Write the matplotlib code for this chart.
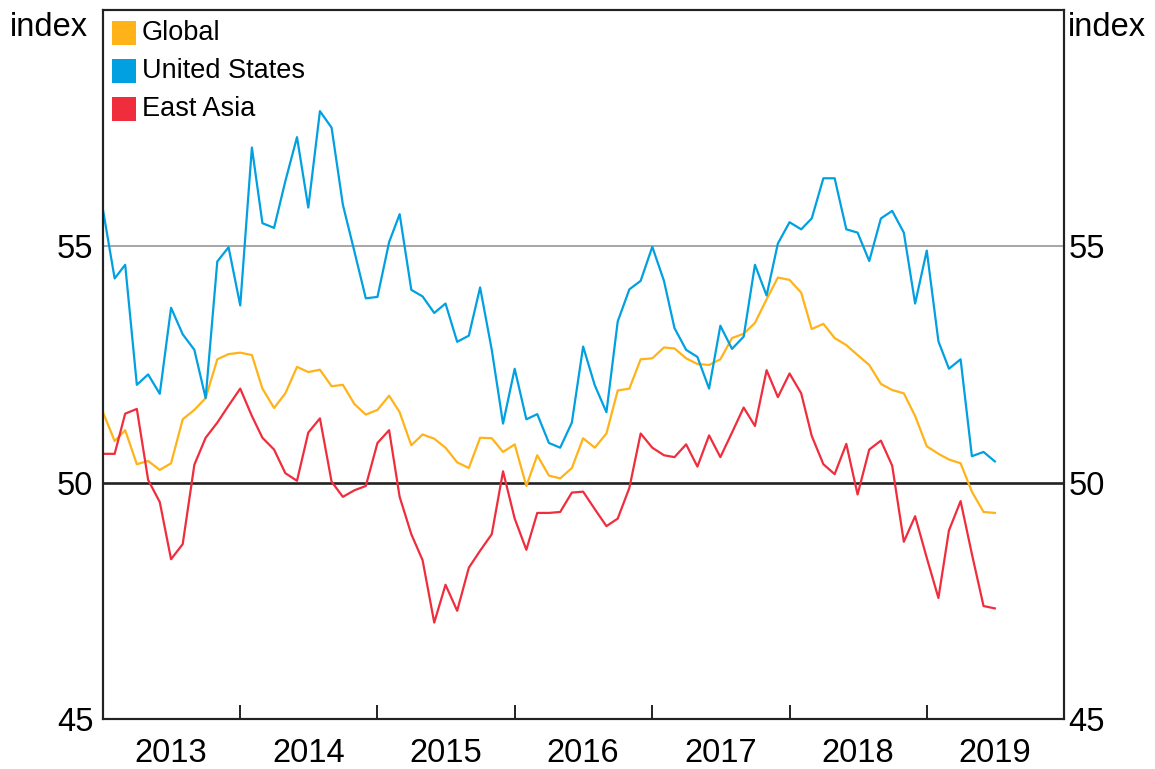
import matplotlib
matplotlib.use("Agg")
import matplotlib.pyplot as plt
import matplotlib.dates as mdates
from matplotlib.patches import Rectangle
import pandas as pd
import numpy as np

plt.rcParams['font.family'] = ['Liberation Sans', 'DejaVu Sans']

start_month = '2013-01-01'
series_names = ['Global', 'United States', 'East Asia']
colors = ['#FFB319', '#00A0E1', '#F02D3C']

global_pmi = [51.49, 50.88, 51.11, 50.39, 50.46, 50.27, 50.41, 51.34, 51.54, 51.79,
              52.61, 52.72, 52.75, 52.70, 51.99, 51.58, 51.89, 52.45, 52.34, 52.39,
              52.04, 52.07, 51.66, 51.44, 51.54, 51.84, 51.49, 50.79, 51.02, 50.93,
              50.74, 50.43, 50.31, 50.95, 50.94, 50.65, 50.81, 49.93, 50.58, 50.15,
              50.09, 50.31, 50.94, 50.74, 51.04, 51.95, 51.99, 52.61, 52.63, 52.86,
              52.84, 52.63, 52.51, 52.49, 52.61, 53.06, 53.15, 53.38, 53.88, 54.34,
              54.29, 54.02, 53.25, 53.36, 53.06, 52.91, 52.70, 52.49, 52.09, 51.96,
              51.89, 51.41, 50.77, 50.61, 50.49, 50.41, 49.81, 49.38, 49.36]

us_pmi = [55.77, 54.32, 54.61, 52.07, 52.29, 51.88, 53.70, 53.14, 52.81, 51.79,
          54.68, 54.98, 53.75, 57.09, 55.49, 55.39, 56.38, 57.31, 55.82, 57.86,
          57.51, 55.88, 54.88, 53.90, 53.93, 55.09, 55.68, 54.08, 53.94, 53.59,
          53.79, 52.98, 53.11, 54.13, 52.81, 51.25, 52.41, 51.34, 51.45, 50.84,
          50.74, 51.27, 52.88, 52.06, 51.49, 53.41, 54.09, 54.27, 54.99, 54.27,
          53.27, 52.81, 52.66, 51.99, 53.32, 52.83, 53.09, 54.61, 53.96, 55.06,
          55.51, 55.36, 55.59, 56.44, 56.44, 55.36, 55.29, 54.69, 55.59, 55.75,
          55.29, 53.79, 54.91, 52.99, 52.41, 52.61, 50.56, 50.65, 50.45]

east_asia_pmi = [50.61, 50.61, 51.46, 51.56, 50.06, 49.59, 48.38, 48.70, 50.38, 50.95,
                 51.27, 51.63, 51.99, 51.41, 50.95, 50.70, 50.20, 50.04, 51.06, 51.36,
                 50.02, 49.70, 49.84, 49.93, 50.84, 51.11, 49.70, 48.91, 48.36, 47.04,
                 47.84, 47.29, 48.20, 48.56, 48.91, 50.24, 49.24, 48.58, 49.36, 49.36,
                 49.38, 49.79, 49.81, 49.44, 49.08, 49.24, 49.89, 51.04, 50.74, 50.58,
                 50.54, 50.81, 50.34, 51.00, 50.54, 51.06, 51.59, 51.20, 52.38, 51.81,
                 52.31, 51.89, 50.99, 50.39, 50.18, 50.82, 49.75, 50.70, 50.89, 50.36,
                 48.75, 49.29, 48.41, 47.56, 48.99, 49.61, 48.49, 47.39, 47.34]

y_ticks = [45, 50, 55]
year_labels = ['2013', '2014', '2015', '2016', '2017', '2018', '2019']

dates = pd.date_range(start_month, periods=len(global_pmi), freq='MS')

W, H = 1155, 769
fig = plt.figure(figsize=(W / 100, H / 100), dpi=100)
ax_l, ax_r, ax_t, ax_b = 103, 1064, 10, 719
ax = fig.add_axes([ax_l / W, 1 - ax_b / H, (ax_r - ax_l) / W, (ax_b - ax_t) / H])

ax.axhline(55, color='#A6A6A6', lw=1.4, zorder=1)
ax.axhline(50, color='#222222', lw=1.9, zorder=1)

for vals, c in zip([global_pmi, us_pmi, east_asia_pmi], colors):
    ax.plot(dates, vals, color=c, lw=1.6, zorder=3)

ax.set_xlim(pd.Timestamp('2013-01-01'), pd.Timestamp('2020-01-01'))
ax.set_ylim(45, 60)

# x ticks: year boundaries (inward marks), labels mid-year
major = [pd.Timestamp(f'{y}-01-01') for y in range(2014, 2020)]
minor = [pd.Timestamp(f'{y}-07-01') for y in year_labels]
ax.set_xticks(major)
ax.set_xticklabels([])
ax.set_xticks(minor, minor=True)
ax.set_xticklabels(year_labels, minor=True)
ax.tick_params(axis='x', which='major', direction='in', length=10, width=1.4, color='#222222')
ax.tick_params(axis='x', which='minor', length=0, pad=14, labelsize=23.5)

ax.set_yticks(y_ticks)
ax.tick_params(axis='y', which='both', length=0, labelsize=23.5, pad=7,
               labelleft=True, labelright=False)
ax2 = ax.twinx()
ax2.set_ylim(45, 60)
ax2.set_yticks(y_ticks)
ax2.tick_params(axis='y', length=0, labelsize=23.5, pad=3)

for a in (ax, ax2):
    for s in a.spines.values():
        s.set_color('#222222')
        s.set_linewidth(1.5)

fig.text(10 / W, 1 - 28 / H, 'index', fontsize=23.5, ha='left', va='center')
fig.text(1068 / W, 1 - 28 / H, 'index', fontsize=23.5, ha='left', va='center')

# legend
sq_top = [21, 59, 97]
for name, c, yt in zip(series_names, colors, sq_top):
    fig.patches.append(Rectangle((112 / W, 1 - (yt + 24) / H), 24 / W, 24 / H,
                                 transform=fig.transFigure, facecolor=c,
                                 edgecolor='none', zorder=5))
    fig.text(142 / W, 1 - (yt + 12) / H, name, fontsize=19.5, ha='left', va='center')

fig.savefig('out.png', dpi=100)
